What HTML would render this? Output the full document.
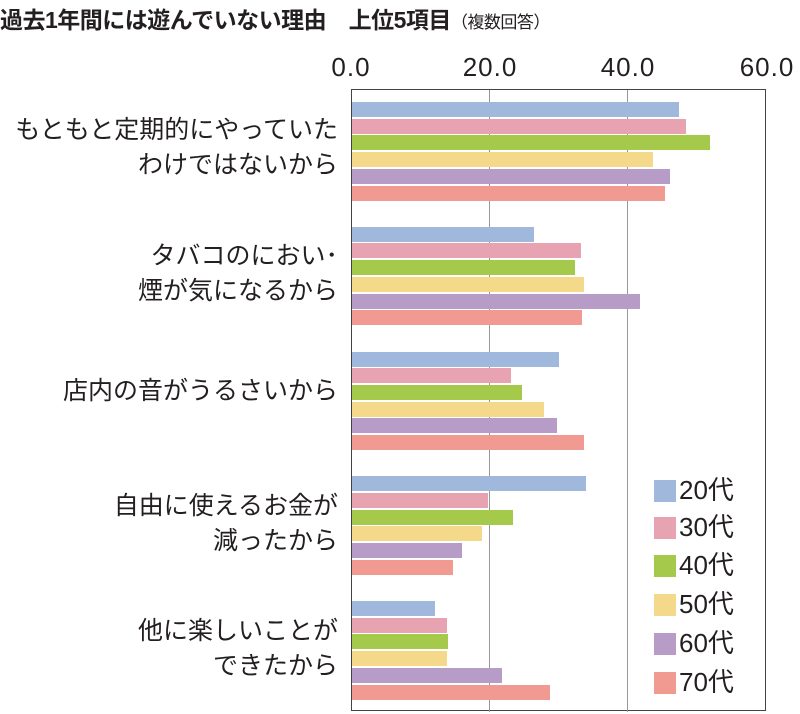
<!DOCTYPE html>
<html><head><meta charset="utf-8"><style>
body{margin:0;width:800px;height:714px;background:#fff;position:relative;overflow:hidden;font-family:"Liberation Sans","Noto Sans CJK JP",sans-serif;color:#231f20}
.t{position:absolute;white-space:nowrap}
.bar{position:absolute;height:15px}
.lab{position:absolute;right:462px;text-align:right;font-size:25px;line-height:35px;white-space:nowrap}
.tick{position:absolute;top:52px;font-size:26px;width:100px;text-align:center;letter-spacing:1px}
.lg{position:absolute;left:654px;width:22px;height:22px}
.lt{position:absolute;left:679px;font-size:26px;line-height:24px}
</style></head><body>
<div class="t" style="left:0;top:1px;font-size:23px;font-weight:bold;letter-spacing:-0.5px">過去1年間には遊んでいない理由　上位5項目<span style="font-size:17px;font-weight:normal">（複数回答）</span></div>
<div class="tick" style="left:301px">0.0</div>
<div class="tick" style="left:440px">20.0</div>
<div class="tick" style="left:578px">40.0</div>
<div class="tick" style="left:717px">60.0</div>
<div style="position:absolute;left:351px;top:89px;width:415px;height:622px;border:1.5px solid #444;box-sizing:border-box"></div>
<div style="position:absolute;left:489px;top:90px;width:1px;height:622px;background:#999"></div>
<div style="position:absolute;left:627px;top:90px;width:1px;height:622px;background:#999"></div>
<div id="bars"></div>
<div class="lab" style="top:113px">もともと定期的にやっていた<br>わけではないから</div>
<div class="lab" style="top:239px">タバコのにおい･<br>煙が気になるから</div>
<div class="lab" style="top:374px">店内の音がうるさいから</div>
<div class="lab" style="top:489px">自由に使えるお金が<br>減ったから</div>
<div class="lab" style="top:614px">他に楽しいことが<br>できたから</div>
<div class="lg" style="top:480px;background:#9fb8db"></div><div class="lt" style="top:478px">20代</div>
<div class="lg" style="top:517px;background:#e8a3b3"></div><div class="lt" style="top:515px">30代</div>
<div class="lg" style="top:555px;background:#a5c94a"></div><div class="lt" style="top:553px">40代</div>
<div class="lg" style="top:594px;background:#f4d98b"></div><div class="lt" style="top:592px">50代</div>
<div class="lg" style="top:633px;background:#b89cc8"></div><div class="lt" style="top:631px">60代</div>
<div class="lg" style="top:672px;background:#f09a92"></div><div class="lt" style="top:670px">70代</div>
<script>
var c=["#9fb8db","#e8a3b3","#a5c94a","#f4d98b","#b89cc8","#f09a92"];
var e=[[679,686,710,653,670,665],[534,581,575,584,640,582],[559,511,522,544,557,584],[586,488,513,482,462,453],[435,447,448,447,502,550]];
var h="";
for(var g=0;g<5;g++)for(var i=0;i<6;i++){var y=102+g*124.75+i*16.7;
h+='<div class="bar" style="left:352px;top:'+y.toFixed(1)+'px;width:'+(e[g][i]-352)+'px;background:'+c[i]+'"></div>';}
document.getElementById("bars").innerHTML=h;
</script>
</body></html>
